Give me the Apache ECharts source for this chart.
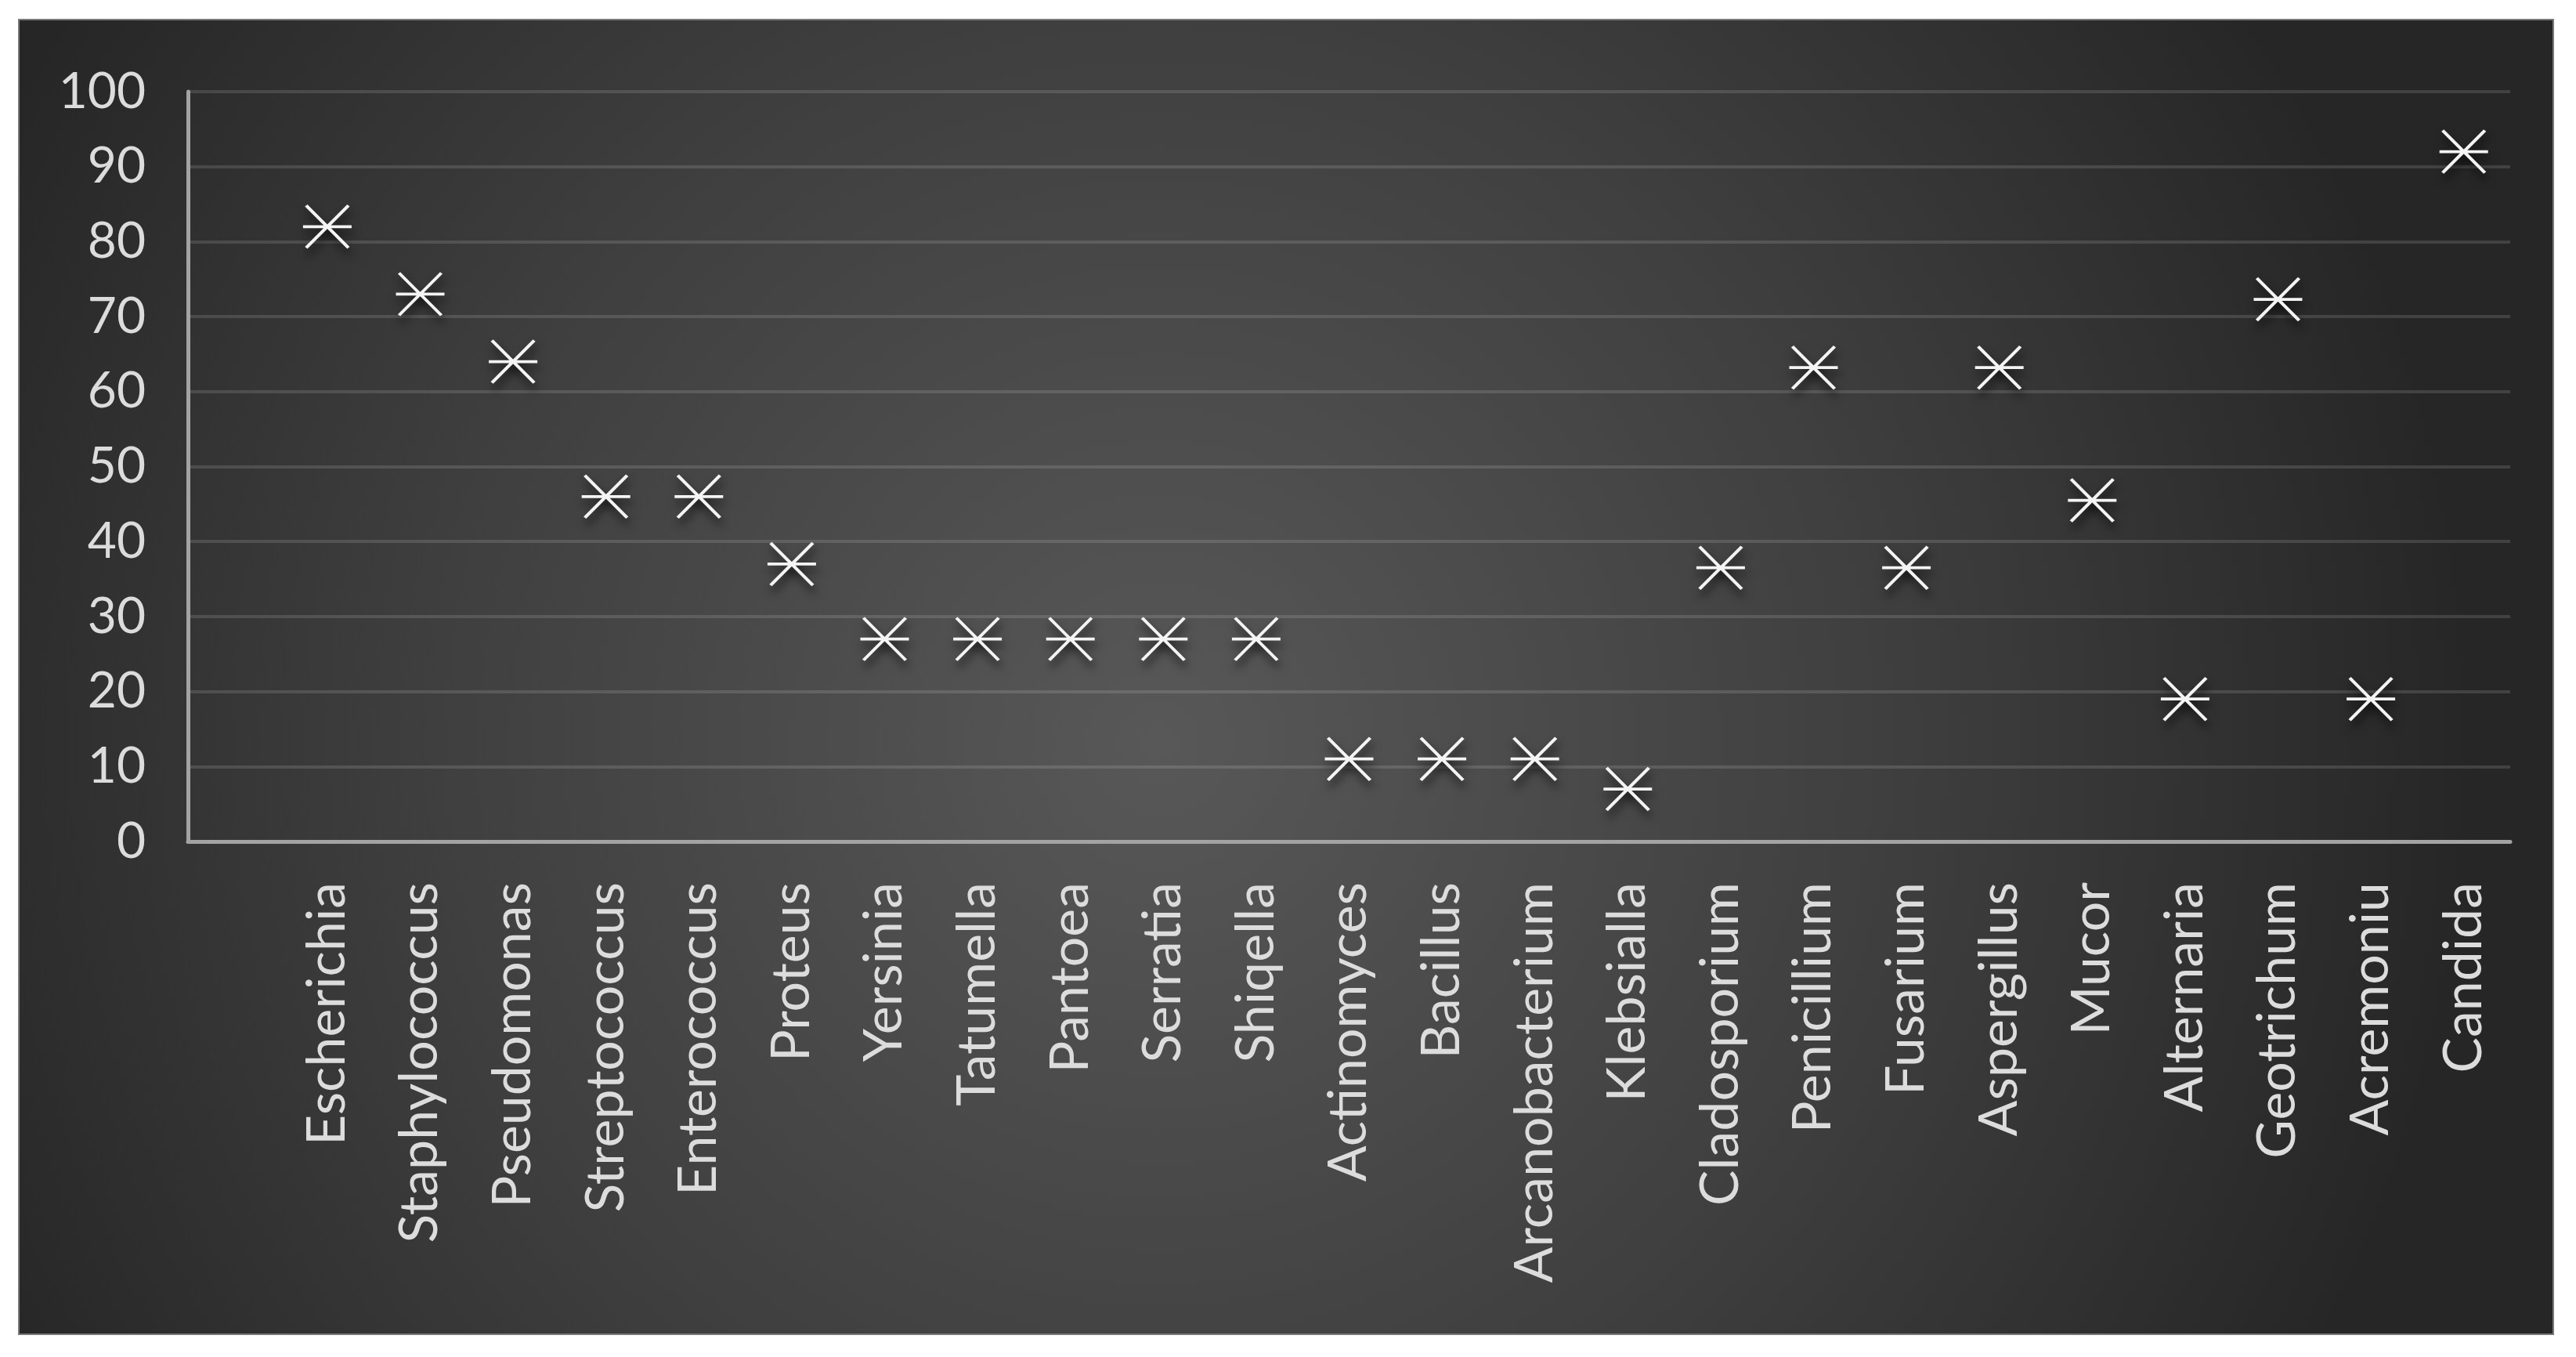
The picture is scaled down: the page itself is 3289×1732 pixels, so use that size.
<!DOCTYPE html>
<html>
<head>
<meta charset="utf-8">
<script src="https://cdn.jsdelivr.net/npm/echarts@6/dist/echarts.min.js"></script>
<style>
  html, body { margin: 0; padding: 0; background: #ffffff; }
  #chart { width: 3289px; height: 1732px; }
</style>
</head>
<body>
<div id="chart"></div>
<script>
// Categories (genera), in display order
const categories = [
  'Escherichia', 'Staphylococcus', 'Pseudomonas', 'Streptococcus', 'Enterococcus',
  'Proteus', 'Yersinia', 'Tatumella', 'Pantoea', 'Serratia', 'Shiqella',
  'Actinomyces', 'Bacillus', 'Arcanobacterium', 'Klebsialla', 'Cladosporium',
  'Penicillium', 'Fusarium', 'Aspergillus', 'Mucor', 'Alternaria',
  'Geotrichum', 'Acremoniu', 'Candida'
];

// Values
const values = [
  82, 73, 64, 46, 46,
  37, 27, 27, 27, 27, 27,
  11, 11, 11, 7, 36.5,
  63.2, 36.5, 63.2, 45.5, 19,
  72.3, 19, 92
];

// Y-axis tick values
const yTicks = [0, 10, 20, 30, 40, 50, 60, 70, 80, 90, 100];

// The original category axis has one empty slot before the first genus
const axisCategories = [''].concat(categories);
const seriesData = [null].concat(values);

const chart = echarts.init(document.getElementById('chart'), null, { renderer: 'canvas' });

const textColor = '#dcdcdc';
const fontFamily = 'Lato, "Open Sans", "Noto Sans", sans-serif';

const option = {
  animation: false,
  backgroundColor: '#ffffff',
  graphic: [{
    type: 'rect',
    z: -100,
    silent: true,
    shape: { x: 24, y: 25, width: 3236, height: 1678 },
    style: {
      fill: {
        type: 'radial', x: 0.45, y: 0.55, r: 1.0,
        colorStops: [
          { offset: 0, color: '#585858' },
          { offset: 0.55, color: '#3f3f3f' },
          { offset: 1, color: '#262626' }
        ]
      },
      stroke: '#7a7a7a',
      lineWidth: 2
    }
  }],
  grid: {
    left: 240,
    right: 84,
    top: 117,
    bottom: 658,
    containLabel: false,
    outerBoundsMode: 'none'
  },
  xAxis: {
    type: 'category',
    data: axisCategories,
    boundaryGap: true,
    axisLine: { show: true, lineStyle: { color: '#a3a3a3', width: 5 } },
    axisTick: { show: false },
    splitLine: { show: false },
    axisLabel: {
      interval: 0,
      rotate: 90,
      margin: 52,
      color: textColor,
      fontSize: 68,
      fontFamily: fontFamily
    }
  },
  yAxis: {
    type: 'value',
    min: yTicks[0],
    max: yTicks[yTicks.length - 1],
    interval: yTicks[1] - yTicks[0],
    axisLine: { show: true, lineStyle: { color: '#a3a3a3', width: 5 } },
    axisTick: { show: false },
    splitLine: { show: true, lineStyle: { color: 'rgba(255,255,255,0.13)', width: 4 } },
    axisLabel: {
      margin: 54,
      color: textColor,
      fontSize: 64,
      fontFamily: fontFamily
    }
  },
  series: [{
    type: 'scatter',
    data: seriesData,
    symbol: 'path://M0,27L62,27M4,0L58,54M58,0L4,54',
    symbolSize: [62, 54],
    itemStyle: {
      color: 'rgba(0,0,0,0)',
      borderColor: '#f4f4f4',
      borderWidth: 4,
      opacity: 1,
      shadowBlur: 12,
      shadowColor: 'rgba(0,0,0,0.75)',
      shadowOffsetX: 2,
      shadowOffsetY: 8
    }
  }]
};

chart.setOption(option);
</script>
</body>
</html>
